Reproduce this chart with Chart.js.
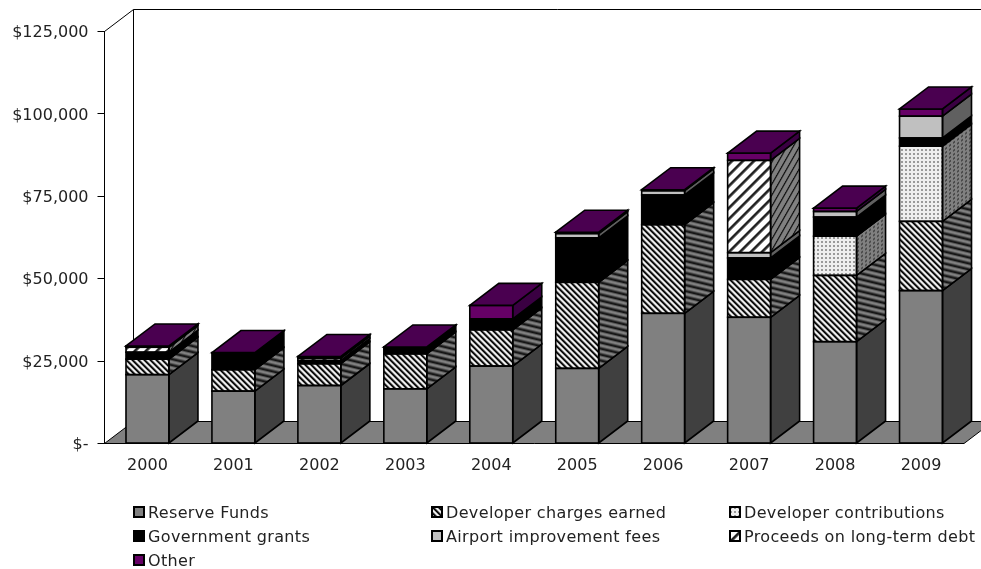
<!DOCTYPE html>
<html>
<head>
<meta charset="utf-8">
<title>Capital funding sources</title>
<script src="https://cdn.jsdelivr.net/npm/chart.js@4"></script>
<style>
  html, body { margin: 0; padding: 0; background: #fff; }
  .chart-box { position: relative; width: 981px; height: 569px; overflow: hidden; }
  #legend {
    position: absolute; left: 133px; top: 500px; width: 848px;
    display: grid; grid-template-columns: 298px 298px 252px; grid-auto-rows: 24px;
    font-family: "DejaVu Sans", sans-serif; font-size: 16px; letter-spacing: 0.35px; color: #222;
  }
  .legend-item { display: flex; align-items: center; white-space: nowrap; }
  .legend-item canvas { margin-right: 3px; flex: none; }
</style>
</head>
<body>
<div class="chart-box">
  <canvas id="chart" width="981" height="569"></canvas>
  <div id="legend"></div>
</div>
<script>
// values, in dollars
const years = ['2000', '2001', '2002', '2003', '2004', '2005', '2006', '2007', '2008', '2009'];
const seriesNames = ['Reserve Funds', 'Developer charges earned', 'Developer contributions', 'Government grants', 'Airport improvement fees', 'Proceeds on long-term debt', 'Other'];
const reserveFunds = [20900, 15900, 17600, 16600, 23500, 22800, 39500, 38300, 30900, 46400];
const developerCharges = [4700, 6500, 6600, 10600, 11000, 26100, 26900, 11500, 20100, 21000];
const developerContributions = [0, 0, 0, 0, 0, 0, 0, 0, 11900, 22800];
const governmentGrants = [2100, 5000, 1000, 1900, 3300, 13500, 9000, 6500, 5800, 2500];
const airportFees = [0, 0, 0, 0, 0, 1300, 1300, 1600, 1700, 6600];
const longTermDebt = [1500, 0, 700, 0, 0, 0, 0, 28000, 0, 0];
const otherFunding = [400, 200, 500, 200, 4100, 400, 300, 2200, 1000, 2200];
const yTicks = [0, 25000, 50000, 75000, 100000, 125000];

const DEPTH_X = 29;
const DEPTH_Y = 22;
const TOP_COLOR = '#4a0050';

function makeTile(size, draw) {
  const tile = document.createElement('canvas');
  tile.width = size;
  tile.height = size;
  draw(tile.getContext('2d'), size);
  return tile;
}

// one colour per diagonal step, so the stripes stay soft and the tile has no seam
function stripes(steps, up) {
  const n = steps.length;
  return makeTile(n, c => {
    for (let x = 0; x < n; x++) {
      for (let y = 0; y < n; y++) {
        c.fillStyle = steps[(up ? x + y : x - y + n) % n];
        c.fillRect(x, y, 1, 1);
      }
    }
  });
}

function dots(back, dot) {
  return makeTile(4, (c, s) => {
    c.fillStyle = back;
    c.fillRect(0, 0, s, s);
    c.fillStyle = dot;
    c.fillRect(1, 1, 2, 2);
  });
}

const ctxMain = document.getElementById('chart').getContext('2d');

// side faces get the tile sheared along the depth direction
function sidePattern(tile) {
  const p = ctxMain.createPattern(tile, 'repeat');
  p.setTransform(new DOMMatrix([1, -DEPTH_Y / DEPTH_X, 0, 1, 0, 0]));
  return p;
}

const chargeSteps = ['#000', '#222', '#888', '#eee', '#eee', '#888'];
const chargeSideSteps = ['#111', '#222', '#555', '#808080', '#808080', '#555'];
const debtSteps = ['#222', '#222', '#444', '#999', '#fff', '#fff', '#fff', '#fff', '#fff', '#fff', '#999'];
const debtSideSteps = ['#111', '#222', '#555', '#808080', '#808080', '#808080', '#808080', '#808080', '#808080', '#808080', '#666'];

const frontFills = [
  '#808080',
  ctxMain.createPattern(stripes(chargeSteps, false), 'repeat'),
  ctxMain.createPattern(dots('#eeeeee', '#999999'), 'repeat'),
  '#000000',
  '#c0c0c0',
  ctxMain.createPattern(stripes(debtSteps, true), 'repeat'),
  '#660066',
];

const sideFills = [
  '#404040',
  sidePattern(stripes(chargeSideSteps, false)),
  sidePattern(dots('#808080', '#484848')),
  '#000000',
  '#606060',
  sidePattern(stripes(debtSideSteps, true)),
  '#3a0042',
];

const allValues = [reserveFunds, developerCharges, developerContributions, governmentGrants, airportFees, longTermDebt, otherFunding];

const datasets = seriesNames.map((name, i) => ({
  label: name,
  data: allValues[i],
  backgroundColor: frontFills[i],
  borderWidth: 0,
  barPercentage: 1,
  categoryPercentage: 0.5,
}));

function poly(c, points) {
  c.beginPath();
  points.forEach((p, i) => (i ? c.lineTo(p[0], p[1]) : c.moveTo(p[0], p[1])));
  c.closePath();
}

// floor and back wall lines, behind the bars
const roomPlugin = {
  id: 'room',
  beforeDatasetsDraw(chart) {
    const c = chart.ctx;
    const { left, right, top, bottom } = chart.chartArea;
    c.save();
    poly(c, [[left, bottom], [right, bottom], [right + DEPTH_X, bottom - DEPTH_Y], [left + DEPTH_X, bottom - DEPTH_Y]]);
    c.fillStyle = '#808080';
    c.fill();
    c.strokeStyle = '#000';
    c.lineWidth = 1;
    c.stroke();
    c.beginPath();
    c.moveTo(left, top);
    c.lineTo(left + DEPTH_X, top - DEPTH_Y);
    c.lineTo(chart.width, top - DEPTH_Y);
    c.moveTo(left + DEPTH_X, top - DEPTH_Y);
    c.lineTo(left + DEPTH_X, bottom - DEPTH_Y);
    c.stroke();
    c.restore();
  },
};

// side and top faces of each stack, then the black outlines
const boxPlugin = {
  id: 'boxes',
  afterDatasetsDraw(chart) {
    const c = chart.ctx;
    c.save();
    c.strokeStyle = '#000';
    c.lineWidth = 1.6;
    c.lineJoin = 'miter';
    years.forEach((year, col) => {
      let stackTop = null;
      seriesNames.forEach((name, s) => {
        if (!allValues[s][col]) return;
        const bar = chart.getDatasetMeta(s).data[col];
        const xl = bar.x - bar.width / 2;
        const xr = bar.x + bar.width / 2;
        poly(c, [[xr, bar.base], [xr + DEPTH_X, bar.base - DEPTH_Y], [xr + DEPTH_X, bar.y - DEPTH_Y], [xr, bar.y]]);
        c.fillStyle = sideFills[s];
        c.fill();
        c.stroke();
        c.strokeRect(xl, bar.y, bar.width, bar.base - bar.y);
        stackTop = { xl, xr, y: bar.y };
      });
      poly(c, [[stackTop.xl, stackTop.y], [stackTop.xl + DEPTH_X, stackTop.y - DEPTH_Y], [stackTop.xr + DEPTH_X, stackTop.y - DEPTH_Y], [stackTop.xr, stackTop.y]]);
      c.fillStyle = TOP_COLOR;
      c.fill();
      c.stroke();
    });
    c.restore();
  },
};

const chartFont = { family: '"DejaVu Sans", sans-serif', size: 16 };

new Chart(ctxMain, {
  type: 'bar',
  data: { labels: years, datasets },
  plugins: [roomPlugin, boxPlugin],
  options: {
    responsive: false,
    animation: false,
    layout: { padding: { top: 31.5, right: 17, bottom: 0, left: 0 } },
    plugins: { legend: { display: false }, tooltip: { enabled: false } },
    scales: {
      x: {
        stacked: true,
        afterFit: s => { s.height = 125.5; },
        grid: { display: false, drawTicks: false },
        border: { display: false },
        ticks: { color: '#222', font: chartFont, padding: 13, maxRotation: 0 },
      },
      y: {
        stacked: true,
        min: 0,
        max: 125000,
        afterFit: s => { s.width = 104.5; },
        afterBuildTicks: s => { s.ticks = yTicks.map(v => ({ value: v })); },
        grid: { drawOnChartArea: false, drawTicks: true, tickLength: 7, color: '#000', lineWidth: 1 },
        border: { display: true, color: '#000', width: 1 },
        ticks: {
          color: '#222',
          font: chartFont,
          padding: 9,
          labelOffset: 1.5,
          callback: v => (v === 0 ? '$-' : '$' + v.toLocaleString('en-US')),
        },
      },
    },
  },
});

// legend lives outside the canvas so it can keep three fixed columns
const legendBox = document.getElementById('legend');
seriesNames.forEach((name, i) => {
  const item = document.createElement('div');
  item.className = 'legend-item';
  const swatch = document.createElement('canvas');
  swatch.width = 12;
  swatch.height = 12;
  const sc = swatch.getContext('2d');
  sc.fillStyle = frontFills[i];
  sc.fillRect(0, 0, 12, 12);
  sc.strokeStyle = '#000';
  sc.lineWidth = 2;
  sc.strokeRect(1, 1, 10, 10);
  const text = document.createElement('span');
  text.innerText = name;
  item.append(swatch, text);
  legendBox.append(item);
});
</script>
</body>
</html>
